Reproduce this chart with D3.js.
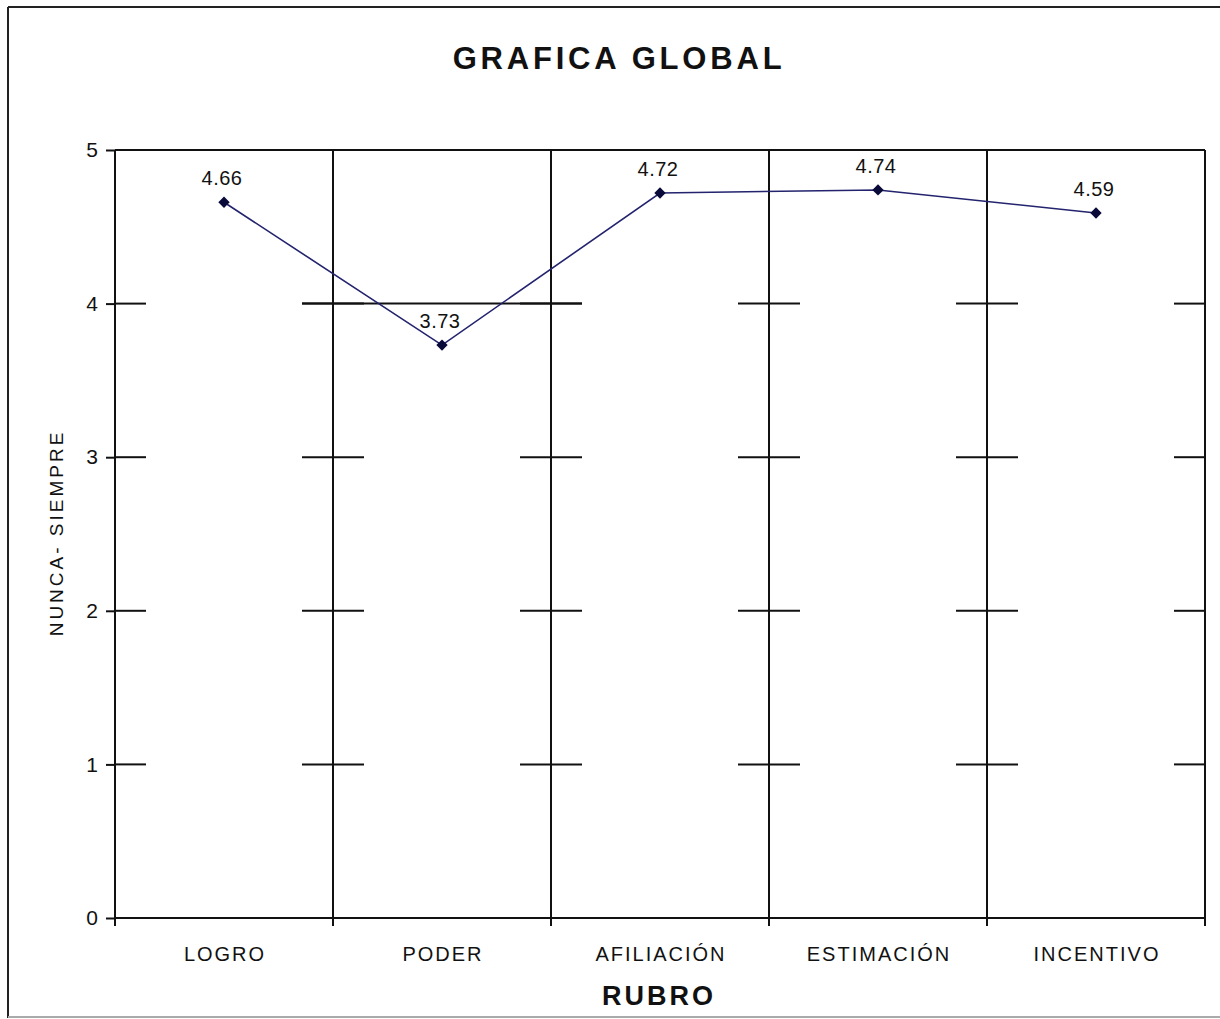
<!DOCTYPE html>
<html>
<head>
<meta charset="utf-8">
<script src="https://cdn.jsdelivr.net/npm/d3@7"></script>
<style>
  body { margin: 0; background: #fff; }
  text { font-family: "Liberation Sans", Arial, sans-serif; fill: #111; }
</style>
</head>
<body>
<svg id="chart" width="1220" height="1019"></svg>
<script>

var categories = ["LOGRO", "PODER", "AFILIACIÓN", "ESTIMACIÓN", "INCENTIVO"]

var values = [4.66, 3.73, 4.72, 4.74, 4.59]

var valueLabels = ["4.66", "3.73", "4.72", "4.74", "4.59"]

var yTicks = [0, 1, 2, 3, 4, 5]

var gridRows = [1, 2, 3, 4]

// row drawn all the way across one category (as in the original)
var fullRowCat = ["PODER"]
var fullRowVal = [4]

var svg = d3.select('#chart')

// frame around the whole picture
svg.append("line")
        .attr("x1", 8).attr("y1", 7).attr("x2", 1220).attr("y2", 7)
        .attr("stroke", "#222").attr("stroke-width", 2)
svg.append("line")
        .attr("x1", 8).attr("y1", 7).attr("x2", 8).attr("y2", 1018)
        .attr("stroke", "#222").attr("stroke-width", 2)
svg.append("line")
        .attr("x1", 8).attr("y1", 1017).attr("x2", 1220).attr("y2", 1017)
        .attr("stroke", "#aaa").attr("stroke-width", 2)

svg.append("text")
        .attr("x", 619)
        .attr("y", 69)
        .attr("text-anchor", "middle")
        .attr("font-size", "31px")
        .attr("font-weight", "bold")
        .attr("letter-spacing", "3.8px")
        .text("GRAFICA GLOBAL")

var plotL = 115, plotR = 1205, plotT = 150, plotB = 918

var x = d3.scaleBand()
            .domain(categories)
            .range([plotL, plotR])
            .padding(0)

var y = d3.scaleLinear()
            .domain([0, 5])
            .range([plotB, plotT])

var bounds = categories.map(function(d) { return x(d) }).concat([plotR])

var g = svg.append("g")

// top edge of the plot
g.append("line")
        .attr("x1", plotL).attr("x2", plotR)
        .attr("y1", y(5)).attr("y2", y(5))
        .attr("stroke", "#111").attr("stroke-width", 2)

// category boundaries, running a little below the axis as ticks
g.selectAll(".vgrid")
        .data(bounds)
        .enter()
        .append("line")
        .attr("class", "vgrid")
        .attr("x1", function(d) { return d }).attr("x2", function(d) { return d })
        .attr("y1", y(5)).attr("y2", plotB + 8)
        .attr("stroke", "#111").attr("stroke-width", 2)

// short crossing marks on every boundary
var marks = []
gridRows.forEach(function(v) {
    bounds.forEach(function(b) {
        marks.push({ v: v, x1: Math.max(plotL, b - 31), x2: Math.min(plotR, b + 31) })
    })
})
fullRowCat.forEach(function(c, i) {
    marks.push({ v: fullRowVal[i], x1: x(c) - 31, x2: x(c) + x.bandwidth() + 31 })
})

g.selectAll(".mark")
        .data(marks)
        .enter()
        .append("line")
        .attr("class", "mark")
        .attr("x1", function(d) { return d.x1 }).attr("x2", function(d) { return d.x2 })
        .attr("y1", function(d) { return y(d.v) }).attr("y2", function(d) { return y(d.v) })
        .attr("stroke", "#111").attr("stroke-width", 2)

// y axis
var yAxis = g.append("g")
        .attr("transform", "translate(" + plotL + ",0)")
        .call(d3.axisLeft(y).tickValues(yTicks).tickSize(9).tickPadding(8).tickFormat(d3.format("d")))

yAxis.select(".domain").remove()
yAxis.selectAll(".tick line").attr("stroke", "#111").attr("stroke-width", 2)
yAxis.selectAll(".tick text")
        .attr("font-size", "21px")
        .attr("font-family", "Liberation Sans, Arial, sans-serif")
        .attr("fill", "#111")

// x axis line
g.append("line")
        .attr("x1", plotL).attr("x2", plotR)
        .attr("y1", plotB).attr("y2", plotB)
        .attr("stroke", "#111").attr("stroke-width", 2)

g.selectAll(".cat")
        .data(categories)
        .enter()
        .append("text")
        .attr("class", "cat")
        .attr("x", function(d) { return x(d) + x.bandwidth() / 2 + 1 })
        .attr("y", 961)
        .attr("text-anchor", "middle")
        .attr("font-size", "20px")
        .attr("letter-spacing", "2px")
        .text(function(d) { return d })

svg.append("text")
        .attr("x", 659)
        .attr("y", 1005)
        .attr("text-anchor", "middle")
        .attr("font-size", "27px")
        .attr("font-weight", "bold")
        .attr("letter-spacing", "3px")
        .text("RUBRO")

svg.append("text")
        .attr("transform", "translate(63,533) rotate(-90)")
        .attr("text-anchor", "middle")
        .attr("font-size", "19px")
        .attr("letter-spacing", "3px")
        .text("NUNCA- SIEMPRE")

// series
var line = d3.line()
        .x(function(d, i) { return x(categories[i]) + x.bandwidth() / 2 })
        .y(function(d) { return y(d) })

g.append("path")
        .datum(values)
        .attr("d", line)
        .attr("fill", "none")
        .attr("stroke", "#23236e")
        .attr("stroke-width", 1.6)

g.selectAll(".pt")
        .data(values)
        .enter()
        .append("path")
        .attr("class", "pt")
        .attr("d", d3.symbol().type(d3.symbolSquare).size(64))
        .attr("transform", function(d, i) {
            return "translate(" + (x(categories[i]) + x.bandwidth() / 2) + "," + y(d) + ") rotate(45)"
        })
        .attr("fill", "#0a0a3a")

g.selectAll(".vlab")
        .data(values)
        .enter()
        .append("text")
        .attr("class", "vlab")
        .attr("x", function(d, i) { return x(categories[i]) + x.bandwidth() / 2 - 2 })
        .attr("y", function(d) { return y(d) - 17 })
        .attr("text-anchor", "middle")
        .attr("font-size", "20px")
        .attr("letter-spacing", "0.5px")
        .text(function(d, i) { return valueLabels[i] })

</script>
</body>
</html>
